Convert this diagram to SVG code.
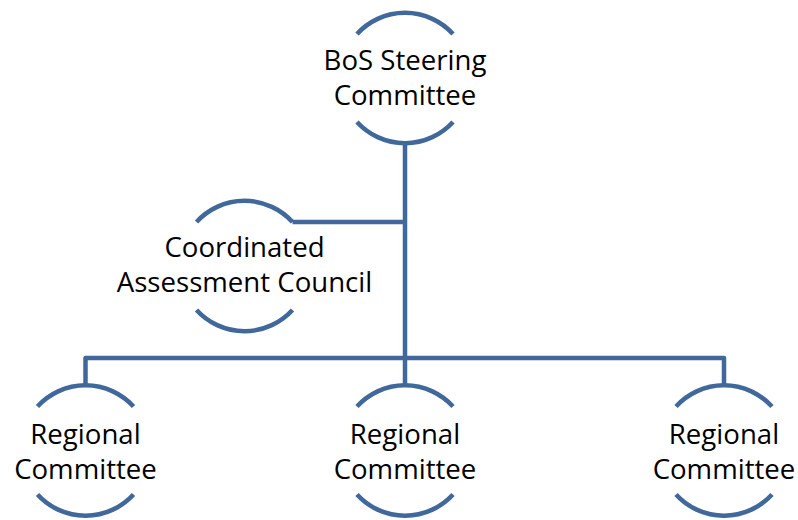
<svg xmlns="http://www.w3.org/2000/svg" width="798" height="520" viewBox="0 0 798 520">
<style>
.arc{fill:none;stroke:#41689A;stroke-width:4.5;stroke-linecap:butt}
.conn{fill:none;stroke:#41689A;stroke-width:4.5;stroke-linejoin:round}
.lbl{font-family:"Open Sans","Noto Sans","Liberation Sans",sans-serif;font-size:27.6px;fill:#000;text-anchor:middle}
</style>
<rect width="798" height="520" fill="#fff"/>
<g id="connectors">
<path class="conn" d="M405,143 V358"/>
<path class="conn" d="M292.5,222 H405"/>
<path class="conn" d="M85.5,385.5 V358 H724 V385.5"/>
<path class="conn" d="M405,358 V385.5"/>
</g>
<g id="bos-steering">
<path class="arc" d="M357,34 A65,65 0 0 1 453,34"/>
<path class="arc" d="M357,122 A65,65 0 0 0 453,122"/>
<text class="lbl"><tspan x="405" y="69.5">BoS Steering</tspan><tspan x="405" y="104.5">Committee</tspan></text>
</g>
<g id="cac">
<path class="arc" d="M196.5,222 A65,65 0 0 1 292.5,222"/>
<path class="arc" d="M196.5,310 A65,65 0 0 0 292.5,310"/>
<text class="lbl"><tspan x="244.5" y="256.5">Coordinated</tspan><tspan x="244.5" y="291.5">Assessment Council</tspan></text>
</g>
<g id="regional-1">
<path class="arc" d="M37.5,406.5 A65,65 0 0 1 133.5,406.5"/>
<path class="arc" d="M37.5,494.5 A65,65 0 0 0 133.5,494.5"/>
<text class="lbl"><tspan x="85.5" y="444">Regional</tspan><tspan x="85.5" y="479">Committee</tspan></text>
</g>
<g id="regional-2">
<path class="arc" d="M357,406.5 A65,65 0 0 1 453,406.5"/>
<path class="arc" d="M357,494.5 A65,65 0 0 0 453,494.5"/>
<text class="lbl"><tspan x="405" y="444">Regional</tspan><tspan x="405" y="479">Committee</tspan></text>
</g>
<g id="regional-3">
<path class="arc" d="M676,406.5 A65,65 0 0 1 772,406.5"/>
<path class="arc" d="M676,494.5 A65,65 0 0 0 772,494.5"/>
<text class="lbl"><tspan x="724" y="444">Regional</tspan><tspan x="724" y="479">Committee</tspan></text>
</g>
</svg>
